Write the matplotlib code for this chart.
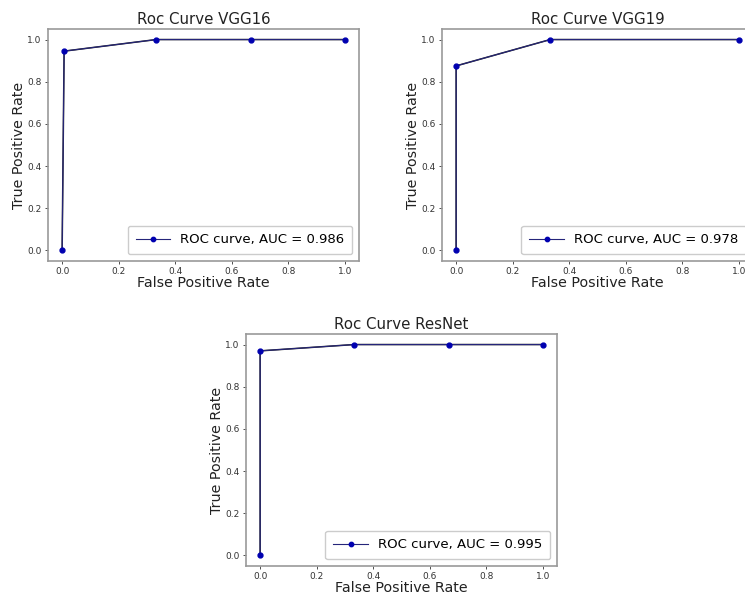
import matplotlib
matplotlib.use("Agg")
import matplotlib.pyplot as plt

# ROC points
fpr_vgg16 = [0.0, 0.007, 0.333, 0.667, 1.0]
tpr_vgg16 = [0.0, 0.945, 1.0, 1.0, 1.0]
auc_vgg16 = 0.986

fpr_vgg19 = [0.0, 0.0, 0.333, 1.0]
tpr_vgg19 = [0.0, 0.875, 1.0, 1.0]
auc_vgg19 = 0.978

fpr_resnet = [0.0, 0.0, 0.333, 0.667, 1.0]
tpr_resnet = [0.0, 0.97, 1.0, 1.0, 1.0]
auc_resnet = 0.995

W, H = 745, 594
fig = plt.figure(figsize=(W / 100, H / 100), dpi=100)


def px_axes(left, top, right, bottom):
    return fig.add_axes([left / W, 1 - bottom / H, (right - left) / W, (bottom - top) / H])


panels = [
    ("Roc Curve VGG16", fpr_vgg16, tpr_vgg16, auc_vgg16, (48, 29, 359, 261)),
    ("Roc Curve VGG19", fpr_vgg19, tpr_vgg19, auc_vgg19, (442, 29, 753, 261)),
    ("Roc Curve ResNet", fpr_resnet, tpr_resnet, auc_resnet, (246, 334, 557, 566)),
]

for title, fpr, tpr, auc, box in panels:
    ax = px_axes(*box)
    ax.plot(fpr, tpr, color="#222222", lw=1.1)
    ax.plot(fpr, tpr, color="#25257a", lw=0.8, marker="o", markersize=3.5,
            markerfacecolor="#0000b0", markeredgecolor="#0000b0",
            label=f"ROC curve, AUC = {auc}")
    ax.set_xlim(-0.05, 1.05)
    ax.set_ylim(-0.05, 1.05)
    ax.set_xticks([0.0, 0.2, 0.4, 0.6, 0.8, 1.0])
    ax.set_yticks([0.0, 0.2, 0.4, 0.6, 0.8, 1.0])
    ax.tick_params(labelsize=6.5, length=2.5, width=0.6, pad=2, colors="#333333")
    for s in ax.spines.values():
        s.set_color("#999999")
        s.set_linewidth(1.2)
    ax.set_title(title, fontsize=10.8, pad=3.5, color="#222222")
    ax.set_xlabel("False Positive Rate", fontsize=10.3, labelpad=0, color="#222222")
    ax.set_ylabel("True Positive Rate", fontsize=10.3, labelpad=1, color="#222222")
    ax.legend(loc="lower right", fontsize=9.5, handlelength=2.6, framealpha=1,
              edgecolor="#cccccc", borderpad=0.6, markerscale=0.9)

fig.savefig("out.png", dpi=100)
